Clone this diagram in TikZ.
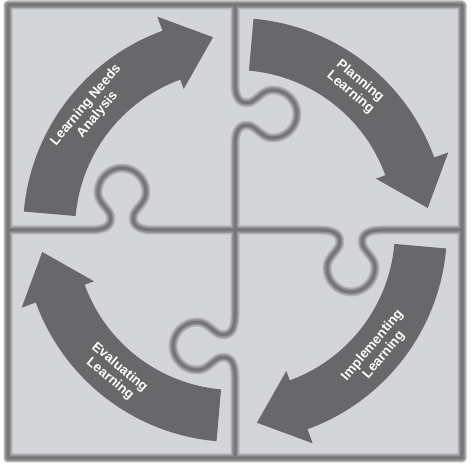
\documentclass[tikz,border=0pt]{standalone}
\usepackage{fontspec}
\setmainfont{Liberation Sans}

\definecolor{puzzle}{RGB}{212,213,215}
\definecolor{arrowgray}{RGB}{104,104,106}
\definecolor{seam}{RGB}{118,118,120}

% one knob of a piece, from (-30,0) to (30,0), bulging to +y
\newcommand{\puzzleknob}{-- (-30,0) .. controls (-14,0) and (-9,7) .. (-12,16)
    .. controls (-16,24) and (-24,28) .. (-24,38)
    .. controls (-24,51) and (-13,62) .. (0,62)
    .. controls (13,62) and (24,51) .. (24,38)
    .. controls (24,28) and (16,24) .. (12,16)
    .. controls (9,7) and (14,0) .. (30,0)}

\begin{document}
\begin{tikzpicture}[x=1pt, y=1pt]
        \tikzstyle{seam line} = [draw=seam, line width=3pt, line cap=round, line join=round,
            preaction={draw=seam!35!puzzle, line width=9pt, line cap=round, line join=round},
            preaction={draw=seam!70!puzzle, line width=6pt, line cap=round, line join=round}]
        \tikzstyle{cycle arrow} = [fill=arrowgray]
        \tikzstyle{stage} = [text=white, align=center, font=\bfseries\fontsize{13.5}{15}\selectfont]

        \useasboundingbox (0,0) rectangle (474,468);
        \fill[puzzle] (5,7) rectangle (465,466);

        % the four pieces
        \path[seam line] (8,10) rectangle (462,463)
            (8,238) -- (92,238) {[shift={(122,238)}] \puzzleknob}
            -- (321,238) {[shift={(351,238)}, yscale=-1] \puzzleknob} -- (462,238)
            (235,463) -- (235,384) {[shift={(235,354)}, rotate=-90] \puzzleknob}
            -- (235,152) {[shift={(235,122)}, rotate=-90, yscale=-1] \puzzleknob} -- (235,10);

        \begin{scope}[shift={(235,238)}]
            \fill[cycle arrow] (175:212) arc[start angle=175, end angle=110, radius=212] -- (110:227) -- (96.5:194)
                -- (110:150) -- (110:160) arc[start angle=110, end angle=175, radius=160] -- cycle;
            \fill[cycle arrow] (85:212) arc[start angle=85, end angle=20, radius=212] -- (20:227) -- (6.5:194)
                -- (20:150) -- (20:160) arc[start angle=20, end angle=85, radius=160] -- cycle;
            \fill[cycle arrow] (-5:212) arc[start angle=-5, end angle=-70, radius=212] -- (-70:227) -- (-83.5:194)
                -- (-70:150) -- (-70:160) arc[start angle=-70, end angle=-5, radius=160] -- cycle;
            \fill[cycle arrow] (-95:212) arc[start angle=-95, end angle=-160, radius=212] -- (-160:227) -- (-173.5:194)
                -- (-160:150) -- (-160:160) arc[start angle=-160, end angle=-95, radius=160] -- cycle;

            \node[stage, rotate=50] (needs analysis) at (140:187) {Learning Needs\\Analysis};
            \node[stage, rotate=-40] (planning) at (50:187) {Planning\\Learning};
            \node[stage, rotate=50] (implementing) at (-40:187) {Implementing\\Learning};
            \node[stage, rotate=-40] (evaluating) at (-130:187) {Evaluating\\Learning};
        \end{scope}
\end{tikzpicture}
\end{document}
